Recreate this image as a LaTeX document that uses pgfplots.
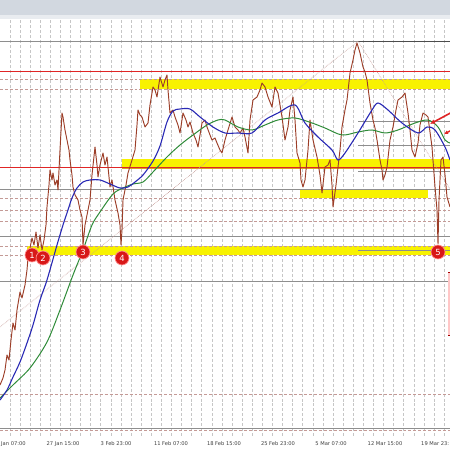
\documentclass[border=0pt]{standalone}
\usepackage{fontspec}
\setmainfont{DejaVu Sans}
\usepackage{pgfplots}
\pgfplotsset{compat=1.18}
\usetikzlibrary{arrows.meta}

\definecolor{barbg}{HTML}{D2D8E0}
\definecolor{barlt}{HTML}{E9ECF0}
\definecolor{hgray}{HTML}{8E8E8E}
\definecolor{hdash}{HTML}{C49A96}
\definecolor{lvlred}{HTML}{E02525}
\definecolor{zone}{HTML}{F8F200}
\definecolor{zoneedge}{HTML}{D9A020}
\definecolor{price}{HTML}{9C3E28}
\definecolor{maBlue}{HTML}{2828B4}
\definecolor{maGreen}{HTML}{2E8B38}
\definecolor{tagred}{HTML}{D81818}

\begin{document}
\begin{tikzpicture}
\begin{axis}[
  name=ax,
  width=450bp, height=450bp, scale only axis,
  xmin=0, xmax=450, ymin=0, ymax=450,
  y dir=reverse,
  axis line style={draw=none},
  tick style={draw=none},
  xtick={9.7,19.8,...,446}, xticklabels={},
  ytick=\empty,
  xmajorgrids,
  major grid style={densely dashed, gray!45, line width=0.4pt},
  clip=true,
]
% window title strip and the empty band under the time scale
\addplot[fill=barbg, draw=none] coordinates {(0,0) (450,0) (450,15) (0,15)};
\addplot[fill=barlt, draw=none] coordinates {(0,15) (450,15) (450,19) (0,19)};
\addplot[fill=white, draw=none] coordinates {(0,438) (450,438) (450,450) (0,450)};

% support / resistance zones
\addplot[fill=zone, draw=none] coordinates {(140,79) (450,79) (450,89) (140,89)};
\addplot[fill=zone, draw=none] coordinates {(122,159) (450,159) (450,167) (122,167)};
\addplot[fill=zone, draw=none] coordinates {(300,190) (428,190) (428,198) (300,198)};
\addplot[fill=zone, draw=none] coordinates {(27,246) (450,246) (450,255) (27,255)};

% horizontal grid and level lines
\addplot[hgray, line width=0.6pt] coordinates {(0,41) (450,41)};
\addplot[black!70, line width=0.8pt] coordinates {(358,41) (450,41)};
\addplot[lvlred, line width=0.9pt] coordinates {(0,71) (450,71)};
\addplot[hdash, densely dashed, line width=0.5pt] coordinates {(0,79) (450,79)};
\addplot[hdash, densely dashed, line width=0.5pt] coordinates {(0,89) (450,89)};
\addplot[hgray, line width=0.5pt] coordinates {(358,121) (450,121)};
\addplot[hgray, line width=0.5pt] coordinates {(358,145) (450,145)};
\addplot[lvlred, line width=0.9pt] coordinates {(0,167) (450,167)};
\addplot[zoneedge, line width=0.7pt] coordinates {(122,168) (450,168)};
\addplot[hgray, line width=0.5pt] coordinates {(358,171) (450,171)};
\addplot[hgray, line width=0.6pt] coordinates {(0,189) (450,189)};
\addplot[hdash, densely dashed, line width=0.5pt] coordinates {(0,198) (450,198)};
\addplot[hdash, densely dashed, line width=0.5pt] coordinates {(0,210) (450,210)};
\addplot[hdash, densely dashed, line width=0.5pt] coordinates {(0,221) (450,221)};
\addplot[hgray, line width=0.6pt] coordinates {(0,236) (450,236)};
\addplot[hdash, densely dashed, line width=0.5pt] coordinates {(0,246) (450,246)};
\addplot[hgray, line width=0.5pt] coordinates {(358,250) (450,250)};
\addplot[hdash, densely dashed, line width=0.5pt] coordinates {(0,255) (450,255)};
\addplot[hgray, line width=0.6pt] coordinates {(0,281) (450,281)};
\addplot[hdash, densely dashed, line width=0.6pt] coordinates {(0,394) (450,394)};
\addplot[hgray, line width=0.6pt] coordinates {(0,428) (450,428)};
\addplot[hdash, densely dashed, line width=0.5pt] coordinates {(0,430) (450,430)};

% dotted trend lines to and from the high
\addplot[hdash, densely dotted, line width=0.6pt] coordinates {(0,327) (358,41)};
\addplot[hdash, densely dotted, line width=0.6pt] coordinates {(358,41) (450,189)};

% price
\addplot[price, line width=0.95pt, line join=round] coordinates {
(0,385) (3,378) (5,370) (7,355) (9,360) (11,340) (13,323) (15,330) (17,310)
(20,292) (22,298) (25,285) (27,270) (28,258) (30,248) (32,238) (34,245)
(36,232) (38,248) (40,235) (42,250) (44,240) (46,225) (47,207) (49,185)
(50,170) (52,180) (53,173) (55,185) (57,180) (58,190) (60,150) (62,113)
(63,117) (65,130) (67,140) (69,150) (70,160) (72,175) (73,187) (75,195)
(78,200) (80,210) (82,217) (83,245) (85,225) (87,215) (90,200) (92,175)
(95,147) (97,165) (98,177) (100,165) (103,153) (105,165) (107,157) (110,187)
(112,180) (115,200) (118,213) (120,225) (121,245) (122,230) (123,200)
(126,185) (128,173) (132,160) (135,150) (137,125) (138,110) (140,115)
(142,117) (145,127) (148,123) (150,105) (153,87) (155,90) (157,97) (160,77)
(163,87) (165,80) (167,75) (168,90) (170,113) (173,110) (175,117) (178,125)
(180,133) (183,113) (186,120) (188,127) (190,122) (193,133) (196,140)
(198,147) (200,135) (202,123) (205,120) (207,127) (210,135) (212,140)
(215,138) (217,143) (220,150) (222,153) (225,140) (228,130) (232,117)
(235,127) (238,130) (240,133) (243,128) (245,137) (248,153) (250,120)
(253,100) (257,97) (260,90) (262,83) (265,87) (268,97) (272,107) (275,87)
(278,93) (280,105) (282,117) (285,140) (288,127) (290,110) (293,97)
(295,120) (297,153) (300,163) (301,180) (303,187) (305,180) (308,150)
(310,120) (313,140) (317,157) (320,175) (322,193) (325,167) (328,165)
(330,160) (332,185) (333,207) (336,185) (338,167) (340,150) (342,127)
(345,110) (347,100) (350,73) (353,60) (355,50) (357,43) (360,53) (363,67)
(365,72) (367,80) (370,103) (373,120) (375,128) (377,140) (380,160)
(382,170) (383,180) (385,175) (387,167) (390,140) (393,127) (396,110)
(398,100) (402,97) (405,93) (408,113) (410,130) (412,150) (415,157)
(418,143) (420,125) (423,113) (426,115) (428,117) (432,147) (435,187)
(437,210) (438,244) (439,200) (441,160) (443,157) (445,175) (447,197)
(450,207)};

% moving averages
\addplot[maGreen, line width=1pt, smooth] coordinates {
(0,398) (13,385) (30,368) (47,342) (60,310) (73,275) (83,250) (92,225)
(100,212) (113,194) (123,188) (133,184) (143,182) (153,172) (167,157)
(180,145) (193,135) (207,125) (218,120) (225,120) (238,127) (252,130)
(265,125) (278,120) (295,118) (312,123) (325,128) (342,135) (358,132)
(372,130) (385,133) (398,130) (415,123) (428,120) (438,127) (445,140)
(450,143)};
\addplot[maBlue, line width=1.1pt, smooth] coordinates {
(0,400) (7,390) (13,377) (20,362) (27,343) (33,325) (40,300) (47,280)
(57,245) (63,225) (67,213) (72,198) (77,188) (83,182) (90,180) (100,180)
(110,184) (120,188) (128,187) (135,182) (143,175) (153,161) (160,146)
(167,122) (173,111) (180,109) (190,109) (200,117) (213,127) (225,133)
(238,133) (252,133) (265,120) (278,113) (295,105) (305,123) (318,137)
(332,150) (338,160) (345,153) (358,133) (372,110) (378,103) (388,110)
(402,123) (418,133) (427,127) (435,130) (445,147) (450,160)};

% numbered tests of the support zone
\addplot[only marks, mark=*, mark size=7pt,
  mark options={fill=tagred, draw=red!45, line width=0.7pt},
  nodes near coords, point meta=explicit symbolic,
  every node near coord/.append style={anchor=center,
    font=\fontsize{8.5}{9}\selectfont, text=white}]
  table[meta=label] {
x y label
32 255 1
43 258 2
83 252 3
122 258 4
438 252 5
};

% arrows at the moving-average cross
\addplot[lvlred, line width=1.6pt, -{Latex[length=5pt,width=5pt]}]
  coordinates {(456,110) (430,124)};
\addplot[lvlred, line width=1.4pt, -{Latex[length=4pt,width=4pt]}]
  coordinates {(456,128) (444,134)};

% order box at the right edge
\addplot[fill=red!22, draw=red!65!black, line width=0.6pt]
  coordinates {(448,272) (460,272) (460,335) (448,335)};

% time scale
\node[font=\fontsize{5.2}{6}\selectfont, text=black!75, anchor=west, inner sep=0pt] at (axis cs:1,444) {Jan 07:00};
\node[font=\fontsize{5.2}{6}\selectfont, text=black!75] at (axis cs:63,444) {27 Jan 15:00};
\node[font=\fontsize{5.2}{6}\selectfont, text=black!75] at (axis cs:116,444) {3 Feb 23:00};
\node[font=\fontsize{5.2}{6}\selectfont, text=black!75] at (axis cs:171,444) {11 Feb 07:00};
\node[font=\fontsize{5.2}{6}\selectfont, text=black!75] at (axis cs:224,444) {18 Feb 15:00};
\node[font=\fontsize{5.2}{6}\selectfont, text=black!75] at (axis cs:278,444) {25 Feb 23:00};
\node[font=\fontsize{5.2}{6}\selectfont, text=black!75] at (axis cs:331,444) {5 Mar 07:00};
\node[font=\fontsize{5.2}{6}\selectfont, text=black!75] at (axis cs:385,444) {12 Mar 15:00};
\node[font=\fontsize{5.2}{6}\selectfont, text=black!75, anchor=west, inner sep=0pt] at (axis cs:421,444) {19 Mar 23:};
\end{axis}
\pgfresetboundingbox
\path[use as bounding box] (ax.south west) rectangle (ax.north east);
\end{tikzpicture}
\end{document}
